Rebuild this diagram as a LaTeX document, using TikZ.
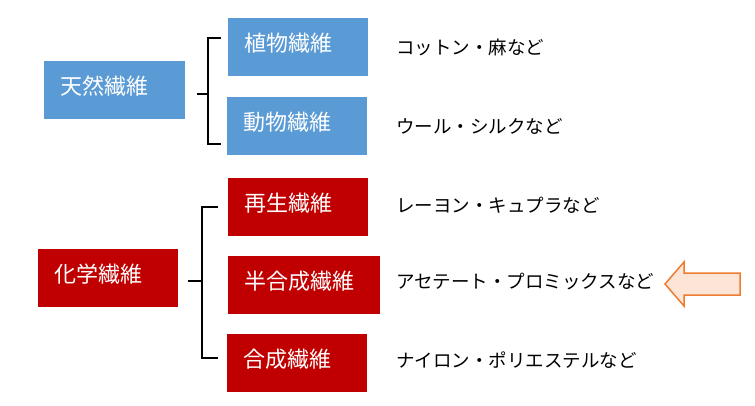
\documentclass[tikz,border=0pt]{standalone}
\usepackage{fontspec}
\setmainfont{Noto Sans CJK JP}
\definecolor{boxblue}{HTML}{5B9BD5}
\definecolor{boxred}{HTML}{C00000}
\definecolor{arrowfill}{HTML}{FCE4D6}
\definecolor{arroworange}{HTML}{ED7D31}
\begin{document}
\begin{tikzpicture}[x=1pt,y=-1pt,
  box/.style={anchor=north west, inner xsep=16pt, inner ysep=0pt, minimum height=58pt, text=white,
    font=\fontsize{22}{26}\selectfont, align=left, text height=16pt, text depth=8pt},
  bluebox/.style={box, fill=boxblue},
  redbox/.style={box, fill=boxred},
  note/.style={anchor=west, inner sep=0pt, font=\fontsize{18.5}{22}\selectfont},
  brace/.style={line width=2pt, black}]
\useasboundingbox (0,0) rectangle (755,406);
% natural fibres
\node[bluebox, minimum width=141pt, text width=109pt] (ten) at (44,61) {天然繊維};
\node[bluebox, minimum width=140pt, text width=108pt] (sho) at (228,18) {植物繊維};
\node[bluebox, minimum width=140pt, text width=108pt] (dou) at (227,97) {動物繊維};
% chemical fibres
\node[redbox, minimum width=140pt, text width=108pt] (kag) at (38,249) {化学繊維};
\node[redbox, minimum width=140pt, text width=108pt] (sai) at (228,178) {再生繊維};
\node[redbox, minimum width=152pt, text width=120pt] (han) at (228,256) {半合成繊維};
\node[redbox, minimum width=140pt, text width=108pt] (gou) at (227,334) {合成繊維};
% notes
\node[note] (n1) at (396,47) {コットン・麻など};
\node[note] (n2) at (396,126) {ウール・シルクなど};
\node[note] (n3) at (396,205) {レーヨン・キュプラなど};
\node[note] (n4) at (396,282) {アセテート・プロミックスなど};
\node[note] (n5) at (396,360) {ナイロン・ポリエステルなど};
% bracket 1
\coordinate (b1s) at (197,94);
\coordinate (b1m) at (208,94);
\coordinate (b1t) at (221,38);
\coordinate (b1b) at (221,144);
\draw[brace] (b1s) -- (b1m);
\draw[brace] (b1t) -| (b1m) |- (b1b);
% bracket 2
\coordinate (b2s) at (188,281);
\coordinate (b2m) at (202,281);
\coordinate (b2t) at (218,207);
\coordinate (b2b) at (218,358);
\draw[brace] (b2s) -- (b2m);
\draw[brace] (b2t) -| (b2m) |- (b2b);
% arrow
\draw[arroworange, fill=arrowfill, line width=1.5pt, line join=miter]
  (665,284) -- (684,262) -- (684,273) -- (740,273) -- (740,295) -- (684,295) -- (684,306) -- cycle;
\end{tikzpicture}
\end{document}
